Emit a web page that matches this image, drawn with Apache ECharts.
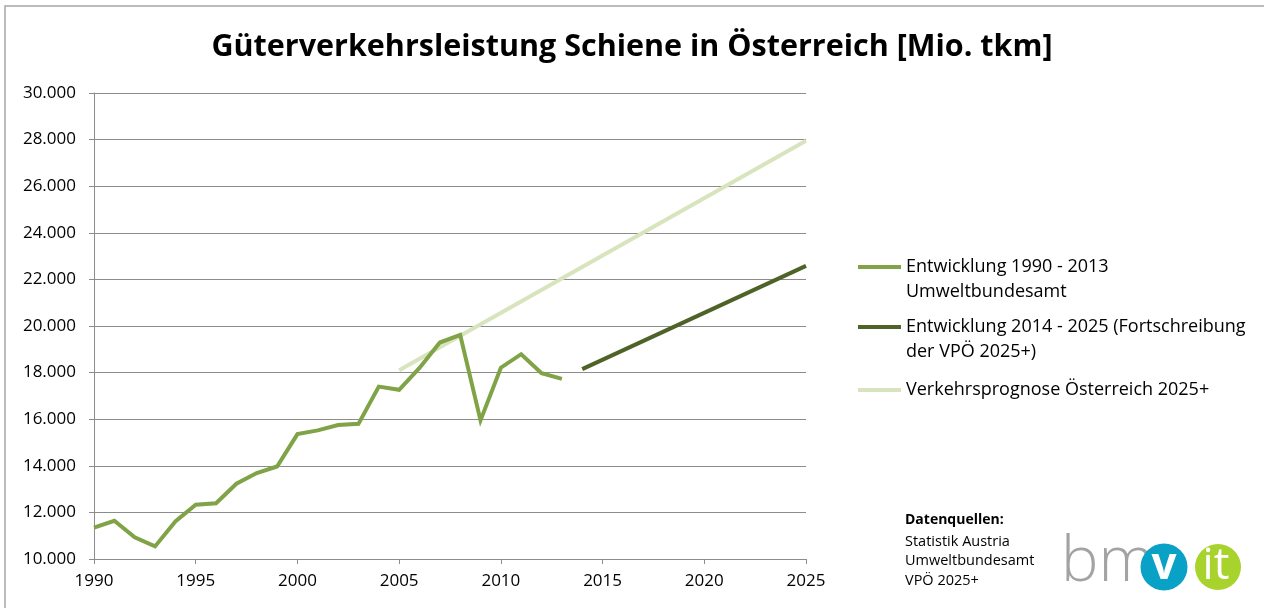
<!DOCTYPE html>
<html>
<head>
<meta charset="utf-8">
<script src="https://cdn.jsdelivr.net/npm/echarts@6/dist/echarts.min.js"></script>
<style>
  html, body { margin: 0; padding: 0; background: #fff; }
  #chart { width: 1264px; height: 608px; }
</style>
</head>
<body>
<div id="chart"></div>
<script>
// Entwicklung 1990 - 2013 (Umweltbundesamt)
const histYears = [1990, 1991, 1992, 1993, 1994, 1995, 1996, 1997, 1998, 1999, 2000, 2001,
  2002, 2003, 2004, 2005, 2006, 2007, 2008, 2009, 2010, 2011, 2012, 2013]
const histValues = [11350, 11640, 10930, 10540, 11610, 12330, 12390, 13230, 13690, 13970, 15360, 15520,
  15750, 15800, 17400, 17260, 18200, 19290, 19620, 15950, 18210, 18790, 17970, 17730]

// Entwicklung 2014 - 2025 (Fortschreibung der VPÖ 2025+)
const fortYears = [2014, 2025]
const fortValues = [18150, 22580]

// Verkehrsprognose Österreich 2025+
const progYears = [2005, 2025]
const progValues = [18100, 27950]

const names = [
  'Entwicklung 1990 - 2013\nUmweltbundesamt',
  'Entwicklung 2014 - 2025 (Fortschreibung\nder VPÖ 2025+)',
  'Verkehrsprognose Österreich 2025+'
]
const colors = ['#7fa346', '#4f6228', '#d7e4bd']

const font = '"Open Sans", "Liberation Sans", sans-serif'
const pairs = (xs, ys) => xs.map((x, i) => [x, ys[i]])

const chart = echarts.init(document.getElementById('chart'))

// one legend per entry, so the line sits next to the first text line
function legendAt(idx, top, twoLines) {
  return {
    data: [names[idx]],
    left: 858,
    top: top,
    icon: 'rect',
    itemWidth: 43,
    itemHeight: 4,
    padding: 0,
    selectedMode: false,
    formatter: name => (twoLines ? '\n' + name : name),
    textStyle: {
      fontFamily: font,
      fontSize: 18,
      color: '#000',
      lineHeight: 25
    }
  }
}

const options = {
  animation: false,
  title: {
    text: 'Güterverkehrsleistung Schiene in Österreich [Mio. tkm]',
    left: 'center',
    top: 27,
    textStyle: {
      fontFamily: font,
      fontWeight: 'bold',
      fontSize: 30.5,
      color: '#000'
    }
  },
  grid: {
    left: 94,
    right: 458,
    top: 93,
    bottom: 49
  },
  legend: [
    legendAt(0, 229.5, true),
    legendAt(1, 289.5, true),
    legendAt(2, 377.5, false)
  ],
  xAxis: {
    type: 'value',
    min: 1990,
    max: 2025,
    interval: 5,
    splitLine: { show: false },
    axisLine: { lineStyle: { color: '#8c8c8c', width: 1 } },
    axisTick: { show: true, length: 5, lineStyle: { color: '#8c8c8c' } },
    axisLabel: {
      fontFamily: font,
      fontSize: 17,
      color: '#000',
      margin: 14,
      formatter: v => String(v)
    }
  },
  yAxis: {
    type: 'value',
    min: 10000,
    max: 30000,
    interval: 2000,
    axisLine: { show: true, lineStyle: { color: '#8c8c8c', width: 1 } },
    axisTick: { show: true, length: 5, lineStyle: { color: '#8c8c8c' } },
    splitLine: { lineStyle: { color: '#8c8c8c', width: 1 } },
    axisLabel: {
      fontFamily: font,
      fontSize: 17,
      color: '#000',
      margin: 18,
      formatter: v => v.toLocaleString('de-DE', { minimumFractionDigits: 0 }).replace(',', '.')
    }
  },
  series: [
    {
      name: names[2],
      type: 'line',
      data: pairs(progYears, progValues),
      showSymbol: false,
      lineStyle: { color: colors[2], width: 4 },
      itemStyle: { color: colors[2] },
      z: 1
    },
    {
      name: names[0],
      type: 'line',
      data: pairs(histYears, histValues),
      showSymbol: false,
      lineStyle: { color: colors[0], width: 4, join: 'miter' },
      itemStyle: { color: colors[0] },
      z: 2
    },
    {
      name: names[1],
      type: 'line',
      data: pairs(fortYears, fortValues),
      showSymbol: false,
      lineStyle: { color: colors[1], width: 4 },
      itemStyle: { color: colors[1] },
      z: 3
    }
  ],
  graphic: [
    // chart frame
    {
      type: 'rect',
      shape: { x: 5, y: 6, width: 1300, height: 700 },
      style: { fill: null, stroke: '#a6a6a6', lineWidth: 1.5 },
      silent: true
    },
    // data sources
    {
      type: 'text',
      left: 905,
      top: 513,
      style: { text: 'Datenquellen:', font: 'bold 14px ' + font, fill: '#000' }
    },
    {
      type: 'text',
      left: 905,
      top: 532,
      style: {
        text: 'Statistik Austria\nUmweltbundesamt\nVPÖ 2025+',
        font: '14.5px ' + font,
        lineHeight: 19.5,
        fill: '#000'
      }
    },
    // logo
    {
      type: 'text',
      left: 1061,
      top: 532,
      style: { text: 'bm', font: '300 63px ' + font, fill: '#a3a3a3' }
    },
    {
      type: 'circle',
      shape: { cx: 1164, cy: 567, r: 23.5 },
      style: { fill: '#0aa1c6' }
    },
    {
      type: 'text',
      x: 1164,
      y: 566,
      style: { text: 'v', font: 'bold 44px ' + font, fill: '#fff', align: 'center', verticalAlign: 'middle' }
    },
    {
      type: 'circle',
      shape: { cx: 1218, cy: 567, r: 23 },
      style: { fill: '#a8d32d' }
    },
    {
      type: 'text',
      x: 1216,
      y: 566,
      style: { text: 'it', font: '44px ' + font, fill: '#fff', align: 'center', verticalAlign: 'middle' }
    }
  ]
}

chart.setOption(options)
</script>
</body>
</html>
